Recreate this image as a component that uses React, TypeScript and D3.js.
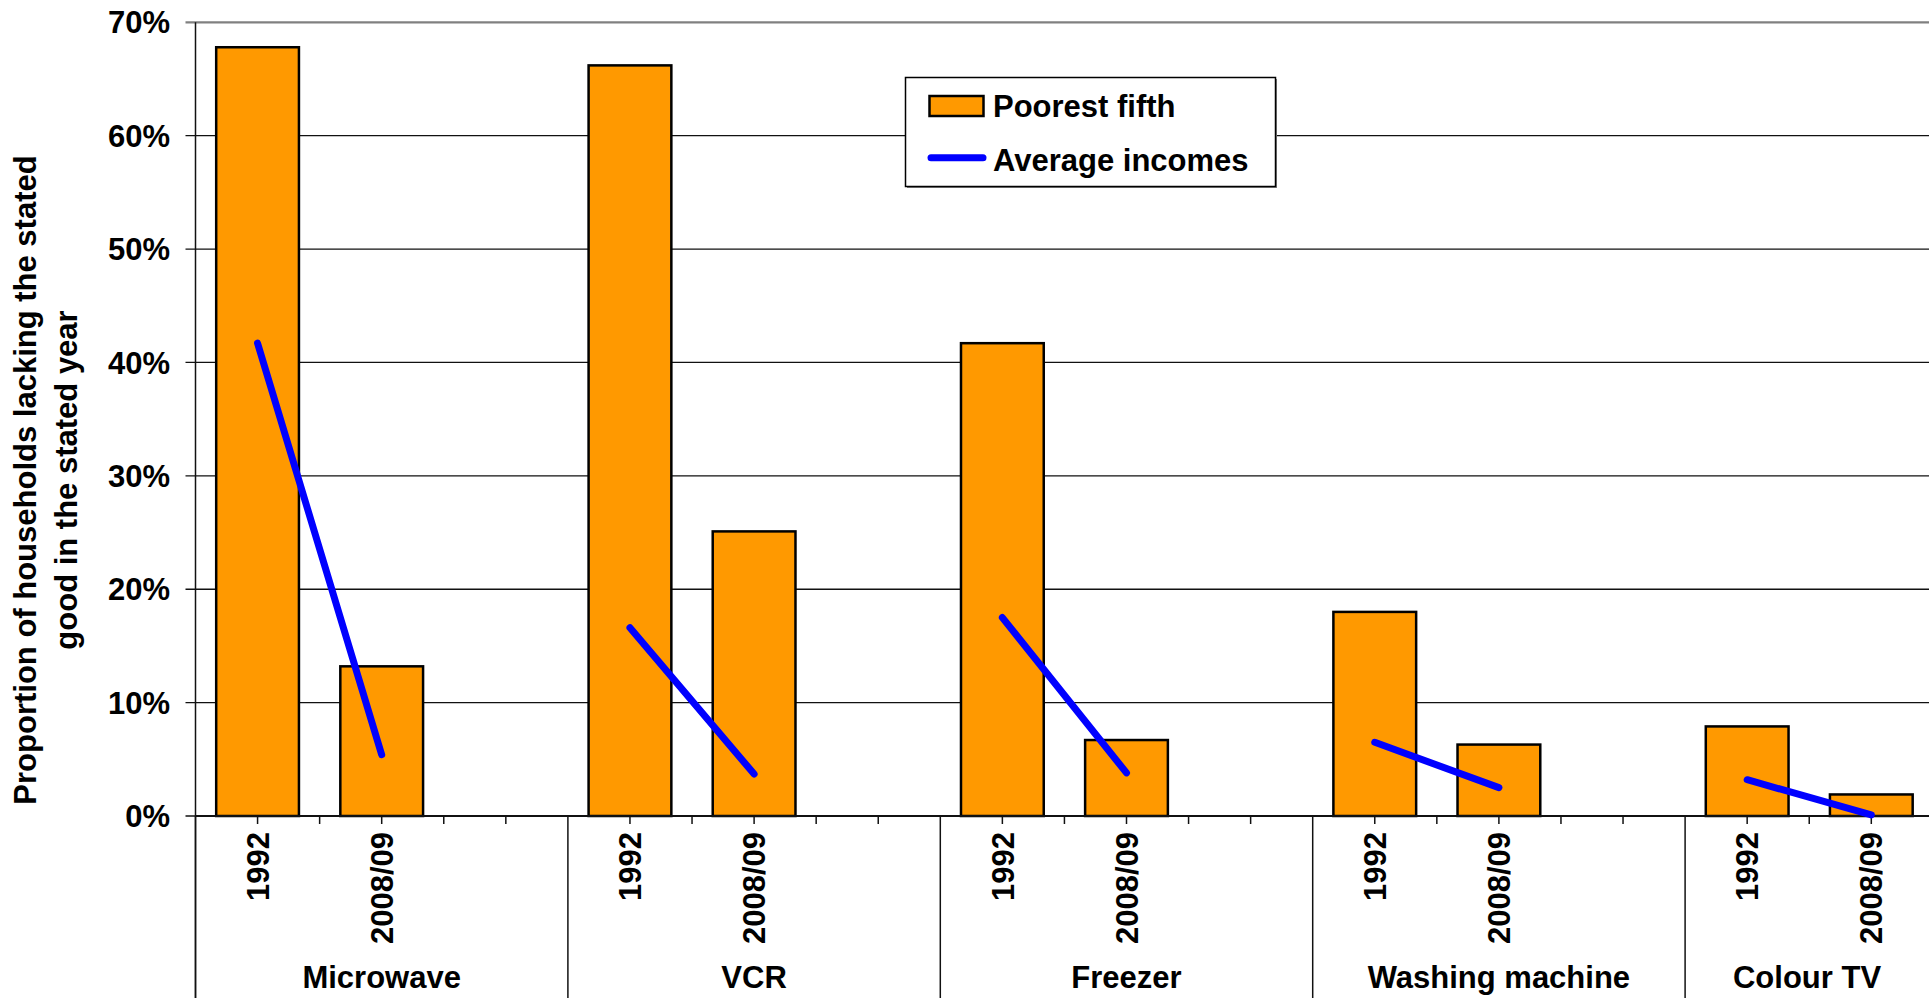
import * as d3 from "d3";

const GROUPS = ["Microwave", "VCR", "Freezer", "Washing machine", "Colour TV"];
const SLOTS = ["1992", "2008/09", "blank"];
const YEARS = ["1992", "2008/09"];

// percent of households lacking the good
const POOREST_1992 = [67.8, 66.2, 41.7, 18.0, 7.9];
const POOREST_0809 = [13.2, 25.1, 6.7, 6.3, 1.9];
const AVERAGE_1992 = [41.7, 16.6, 17.5, 6.5, 3.2];
const AVERAGE_0809 = [5.4, 3.7, 3.8, 2.5, 0.1];
const Y_TICKS = [0, 10, 20, 30, 40, 50, 60, 70];

const W = 1929;
const H = 998;
const LEFT = 195.5;
const TOP = 22.3;
const BOTTOM = 816;
// the plot runs off the right edge of the picture (last group is cut)
const PLOT_RIGHT = 2057.5;
const FONT = "'Liberation Sans', Arial, sans-serif";
const ORANGE = "#FF9900";
const BLUE = "#0000FF";

export default function App() {
    const x0 = d3.scaleBand<string>().domain(GROUPS).range([LEFT, PLOT_RIGHT]);
    const x1 = d3.scaleBand<string>().domain(SLOTS).range([0, x0.bandwidth()]);
    const y = d3.scaleLinear().domain([0, 70]).range([BOTTOM, TOP]);
    const bw = x1.bandwidth();
    const barW = (bw * 2) / 3;
    const center = (g: string, s: string) => (x0(g) ?? 0) + (x1(s) ?? 0) + bw / 2;

    const poorest = [POOREST_1992, POOREST_0809];
    const average = [AVERAGE_1992, AVERAGE_0809];

    const halfTicks = d3.range(1, 6).map((i) => (i * bw) / 2);

    return (
        <svg
            width={W}
            height={H}
            style={{ position: "absolute", left: 0, top: 0, background: "#fff" }}
            fontFamily={FONT}
            fontWeight="bold"
        >
            {/* gridlines */}
            {Y_TICKS.map((t) => (
                <line
                    key={t}
                    x1={LEFT - 10}
                    x2={W}
                    y1={y(t)}
                    y2={y(t)}
                    stroke={t === 70 ? "#808080" : "#111"}
                    strokeWidth={t === 70 ? 2.2 : 1.3}
                />
            ))}
            {Y_TICKS.map((t) => (
                <text key={"l" + t} x={170} y={y(t)} dy="0.36em" textAnchor="end" fontSize={31}>
                    {t}%
                </text>
            ))}

            {/* bars */}
            {GROUPS.map((g, gi) =>
                YEARS.map((yr, yi) => {
                    const v = poorest[yi][gi];
                    return (
                        <rect
                            key={g + yr}
                            x={center(g, yr) - barW / 2}
                            y={y(v)}
                            width={barW}
                            height={y(0) - y(v)}
                            fill={ORANGE}
                            stroke="#000"
                            strokeWidth={2.5}
                        />
                    );
                })
            )}

            {/* x axis */}
            <line x1={LEFT} x2={W} y1={BOTTOM} y2={BOTTOM} stroke="#111" strokeWidth={2} />
            <line x1={LEFT} x2={LEFT} y1={TOP} y2={H} stroke="#111" strokeWidth={1.5} />
            {GROUPS.map((g) => {
                const gx = x0(g) ?? 0;
                const visEnd = Math.min(gx + x0.bandwidth(), W);
                return (
                    <g key={"ax" + g}>
                        <line x1={gx} x2={gx} y1={BOTTOM} y2={H} stroke="#111" strokeWidth={1.5} />
                        {halfTicks.map((dx) => (
                            <line key={dx} x1={gx + dx} x2={gx + dx} y1={BOTTOM} y2={BOTTOM + 8} stroke="#111" strokeWidth={1.5} />
                        ))}
                        {YEARS.map((yr) => (
                            <text
                                key={yr}
                                transform={`translate(${center(g, yr)},832) rotate(-90)`}
                                dy="0.36em"
                                textAnchor="end"
                                fontSize={31}
                            >
                                {yr}
                            </text>
                        ))}
                        <text x={(gx + visEnd) / 2} y={988} textAnchor="middle" fontSize={31}>
                            {g}
                        </text>
                    </g>
                );
            })}

            {/* average incomes segments */}
            {GROUPS.map((g, gi) => (
                <line
                    key={"avg" + g}
                    x1={center(g, "1992")}
                    y1={y(average[0][gi])}
                    x2={center(g, "2008/09")}
                    y2={y(average[1][gi])}
                    stroke={BLUE}
                    strokeWidth={7}
                    strokeLinecap="round"
                />
            ))}

            {/* legend */}
            <g>
                <rect x={907} y={79} width={370} height={109} fill="#808080" />
                <rect x={905.5} y={77.5} width={370} height={109} fill="#fff" stroke="#000" strokeWidth={1.5} />
                <rect x={929.5} y={96} width={54} height={20} fill={ORANGE} stroke="#000" strokeWidth={2.5} />
                <text x={993} y={117} fontSize={31}>
                    Poorest fifth
                </text>
                <line x1={931} x2={983} y1={157.7} y2={157.7} stroke={BLUE} strokeWidth={7} strokeLinecap="round" />
                <text x={993} y={170.5} fontSize={31}>
                    Average incomes
                </text>
            </g>

            {/* y axis title */}
            <text transform="translate(25,480) rotate(-90)" textAnchor="middle" dy="0.36em" fontSize={31}>
                Proportion of households lacking the stated
            </text>
            <text transform="translate(66,480) rotate(-90)" textAnchor="middle" dy="0.36em" fontSize={31}>
                good in the stated year
            </text>
        </svg>
    );
}
